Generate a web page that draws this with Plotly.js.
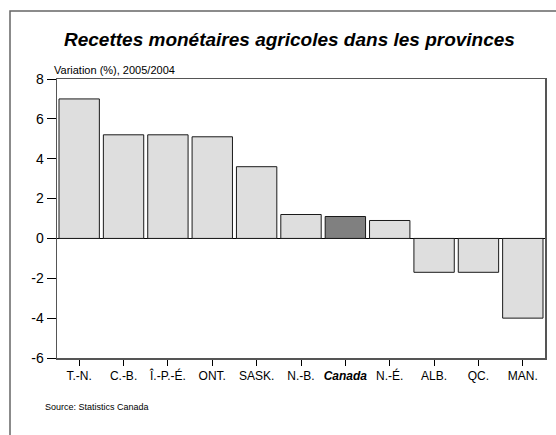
<!DOCTYPE html>
<html><head><meta charset="utf-8">
<script src="https://cdn.plot.ly/plotly-3.0.1.min.js"></script>
<style>html,body{margin:0;padding:0;background:#fff}#c{width:556px;height:435px}</style>
</head><body><div id="c"></div>
<script>
const categories = ["T.-N.","C.-B.","Î.-P.-É.","ONT.","SASK.","N.-B.","Canada","N.-É.","ALB.","QC.","MAN."];
const values = [7.0, 5.2, 5.2, 5.1, 3.6, 1.2, 1.1, 0.9, -1.7, -1.7, -4.0];
const tickLabels = ["T.-N.","C.-B.","Î.-P.-É.","ONT.","SASK.","N.-B.","<b><i>Canada</i></b>","N.-É.","ALB.","QC.","MAN."];
const yTicks = [-6,-4,-2,0,2,4,6,8];
const yTickLabels = ["-6","-4","-2","0","2","4","6","8"];

const colors = categories.map(c => c === "Canada" ? "#808080" : "#dedede");

const trace = {
  type: "bar",
  x: categories,
  y: values,
  marker: {color: colors, line: {color: "#1a1a1a", width: 1}},
  hoverinfo: "skip"
};

const fx0 = -47 / 488, fx1 = 1.2, fyTop = 1 + 68 / 279, fyBot = -0.4;

const layout = {
  width: 556, height: 435,
  margin: {l: 57, r: 11, t: 79, b: 77},
  paper_bgcolor: "#fff", plot_bgcolor: "#fff",
  font: {family: "Liberation Sans, Arial, sans-serif", color: "#000"},
  showlegend: false,
  bargap: 0.09,
  xaxis: {
    type: "category",
    tickvals: categories, ticktext: tickLabels,
    ticks: "outside", ticklen: 6, tickcolor: "#000", tickwidth: 1,
    showline: true, linecolor: "#555", linewidth: 1.5, mirror: true,
    showgrid: false, zeroline: false,
    tickfont: {size: 12, color: "#000"}
  },
  yaxis: {
    range: [-6, 8], tickvals: yTicks, ticktext: yTickLabels,
    ticks: "outside", ticklen: 9, tickcolor: "#000", tickwidth: 1,
    showline: true, linecolor: "#555", linewidth: 1.5, mirror: true,
    showgrid: false, zeroline: true, zerolinecolor: "#000", zerolinewidth: 1.5,
    tickfont: {size: 14, color: "#000"}
  },
  annotations: [
    {text: "<b><i>Recettes monétaires agricoles dans les provinces</i></b>", xref: "paper", yref: "paper",
     x: (289 - 57) / 488, xanchor: "center", y: 1, yanchor: "bottom", yshift: 27,
     showarrow: false, font: {size: 19, color: "#000"}},
    {text: "Variation (%), 2005/2004", xref: "paper", yref: "paper", x: 0, xshift: -5, xanchor: "left",
     y: 1, yanchor: "bottom", yshift: 1, showarrow: false, font: {size: 11, color: "#000"}},
    {text: "Source: Statistics Canada", xref: "paper", yref: "paper", x: 0, xshift: -14, xanchor: "left",
     y: 0, yanchor: "top", yshift: -42, showarrow: false, font: {size: 9, color: "#000"}}
  ],
  shapes: [
    {type: "path", xref: "paper", yref: "paper",
     path: "M " + fx0 + "," + fyBot + " L " + fx0 + "," + fyTop + " L " + fx1 + "," + fyTop,
     line: {color: "#666", width: 1.5}, layer: "below"}
  ]
};

Plotly.newPlot("c", [trace], layout, {staticPlot: true});
</script>
</body></html>
